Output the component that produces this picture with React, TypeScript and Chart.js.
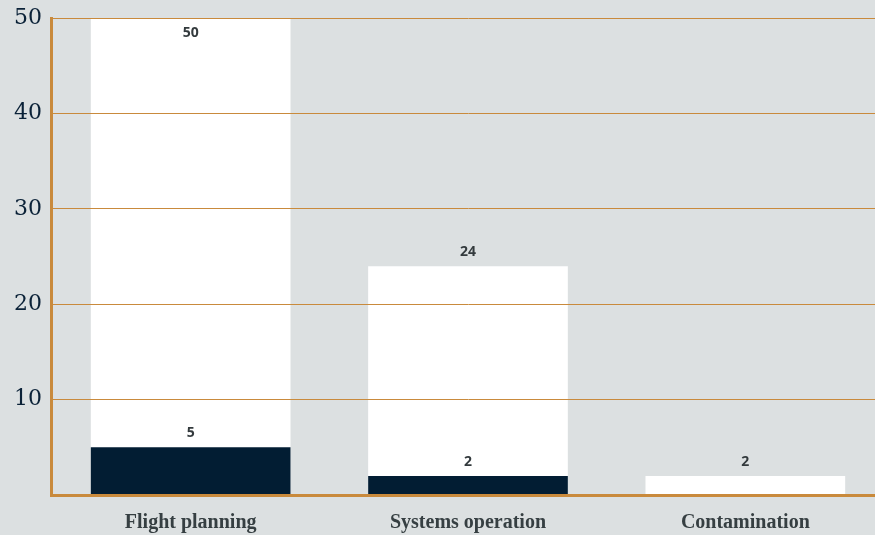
import React, { useEffect, useRef } from "react";
import { Chart, registerables } from "chart.js";

Chart.register(...registerables);

const categories = ["Flight planning", "Systems operation", "Contamination"];
const totalValues = [50, 24, 2];
const subsetValues = [5, 2, 0];
const yTicks = [10, 20, 30, 40, 50];

const BG = "#dce0e1";
const ORANGE = "#c98a3c";

const labelPlugin = {
  id: "barLabels",
  afterDatasetsDraw(chart: any) {
    const ctx = chart.ctx;
    const area = chart.chartArea;
    ctx.save();
    ctx.font = "bold 14px 'Open Sans', sans-serif";
    ctx.fillStyle = "#333a3d";
    ctx.textAlign = "center";
    ctx.textBaseline = "middle";
    chart.data.datasets.forEach((ds: any, di: number) => {
      const meta = chart.getDatasetMeta(di);
      meta.data.forEach((bar: any, i: number) => {
        const v = ds.data[i];
        if (!v) return;
        let y = bar.y - 14;
        if (y < area.top + 10) y = bar.y + 15;
        ctx.fillText(String(v), bar.x, y);
      });
    });
    ctx.restore();
  },
};

export default function App() {
  const ref = useRef<HTMLCanvasElement>(null);
  useEffect(() => {
    document.body.style.margin = "0";
    document.body.style.overflow = "hidden";
    document.body.style.background = BG;
    const chart = new Chart(ref.current!, {
      type: "bar",
      data: {
        labels: categories,
        datasets: [
          {
            label: "Subset",
            data: subsetValues,
            backgroundColor: "#021d33",
            order: 0,
          },
          {
            label: "Total",
            data: totalValues,
            backgroundColor: "#ffffff",
            order: 1,
          },
        ],
      },
      options: {
        animation: false,
        responsive: true,
        maintainAspectRatio: false,
        layout: { padding: { top: 2, left: 4, right: 0, bottom: 0 } },
        datasets: { bar: { grouped: false, categoryPercentage: 0.8, barPercentage: 0.9 } } as any,
        plugins: { legend: { display: false }, tooltip: { enabled: false } },
        scales: {
          x: {
            grid: { display: false },
            border: { color: ORANGE, width: 3, z: 2 } as any,
            ticks: {
              color: "#363f42",
              font: { family: "'Liberation Serif', serif", size: 20, weight: "bold" },
              padding: 8,
            },
          },
          y: {
            min: 0,
            max: 50,
            afterBuildTicks: (axis: any) => {
              axis.ticks = [0, ...yTicks].map((v) => ({ value: v }));
            },
            grid: { color: ORANGE, lineWidth: 1, z: 1, drawTicks: false },
            border: { color: ORANGE, width: 3, z: 2 } as any,
            ticks: {
              color: "#0b2238",
              font: { family: "'DejaVu Serif', serif", size: 22 },
              padding: 10,
              callback: (v: any) => (v === 0 ? "" : String(v)),
            },
          },
        },
      },
      plugins: [labelPlugin],
    });
    return () => chart.destroy();
  }, []);
  return (
    <div style={{ width: 884, height: 548, marginTop: -5, background: BG }}>
      <canvas ref={ref} />
    </div>
  );
}
